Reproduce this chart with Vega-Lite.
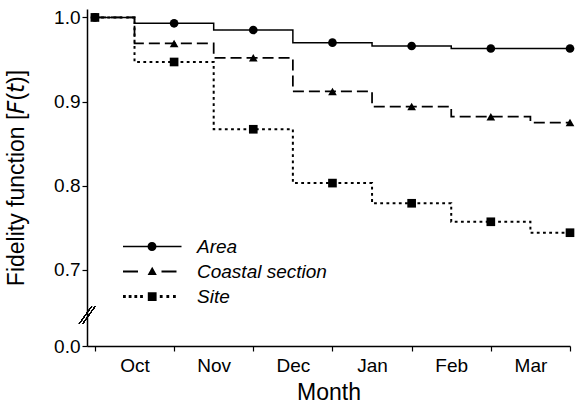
{
  "$schema": "https://vega.github.io/schema/vega-lite/v6.json",
  "autosize": {"type": "none"},
  "width": 483,
  "height": 337,
  "padding": {"left": 87, "top": 9, "right": 5, "bottom": 60},
  "background": "white",
  "config": {
    "view": {"stroke": null},
    "font": "Liberation Sans",
    "axis": {"grid": false, "domainColor": "black", "tickColor": "black", "labelColor": "black", "titleColor": "black", "labelFont": "Liberation Sans", "titleFont": "Liberation Sans", "titleFontWeight": "normal", "domainWidth": 1.5, "tickWidth": 1.2}
  },
  "data": {
    "values": [
      {"t": 0, "series": "Area", "F": 1.0},
      {"t": 1, "series": "Area", "F": 0.993},
      {"t": 2, "series": "Area", "F": 0.985},
      {"t": 3, "series": "Area", "F": 0.970},
      {"t": 4, "series": "Area", "F": 0.966},
      {"t": 5, "series": "Area", "F": 0.963},
      {"t": 6, "series": "Area", "F": 0.963},
      {"t": 0, "series": "Coastal section", "F": 1.0},
      {"t": 1, "series": "Coastal section", "F": 0.969},
      {"t": 2, "series": "Coastal section", "F": 0.952},
      {"t": 3, "series": "Coastal section", "F": 0.912},
      {"t": 4, "series": "Coastal section", "F": 0.894},
      {"t": 5, "series": "Coastal section", "F": 0.882},
      {"t": 6, "series": "Coastal section", "F": 0.875},
      {"t": 0, "series": "Site", "F": 1.0},
      {"t": 1, "series": "Site", "F": 0.947},
      {"t": 2, "series": "Site", "F": 0.867},
      {"t": 3, "series": "Site", "F": 0.803},
      {"t": 4, "series": "Site", "F": 0.779},
      {"t": 5, "series": "Site", "F": 0.757},
      {"t": 6, "series": "Site", "F": 0.744}
    ]
  },
  "encoding": {
    "x": {
      "field": "t", "type": "quantitative",
      "scale": {"domain": [-0.1, 6.0], "nice": false, "zero": false},
      "axis": {
        "values": [0, 1, 2, 3, 4, 5, 6],
        "labelExpr": "['Oct','Nov','Dec','Jan','Feb','Mar',''][datum.value]",
        "labelOffset": 39.6, "labelFontSize": 19, "labelPadding": 5,
        "labelOverlap": false, "labelBound": false, "labelFlush": false,
        "tickSize": 5, "title": "Month", "titleFontSize": 23, "titlePadding": 6
      }
    },
    "y": {
      "field": "F", "type": "quantitative",
      "scale": {"domain": [0, 0.62, 1.01], "range": [337, 328, 0], "nice": false, "zero": false},
      "axis": {
        "values": [0, 0.7, 0.8, 0.9, 1.0], "format": ".1f",
        "labelFontSize": 19, "labelPadding": 2, "tickSize": 5,
        "title": "Fidelity function [𝘍(𝘵)]", "titleFontSize": 23, "titlePadding": 25
      }
    }
  },
  "resolve": {"scale": {"shape": "independent"}, "legend": {"shape": "independent"}},
  "layer": [
    {
      "mark": {"type": "line", "interpolate": "step", "color": "black"},
      "encoding": {
        "strokeDash": {
          "field": "series", "type": "nominal",
          "scale": {"range": [[1, 0], [11, 5], [2.8, 3.4]]},
          "legend": null
        },
        "strokeWidth": {
          "field": "series", "type": "ordinal",
          "scale": {"range": [1.5, 2, 2.8]},
          "legend": null
        }
      }
    },
    {
      "mark": {"type": "point", "filled": true, "color": "black", "size": 75, "opacity": 1},
      "encoding": {
        "shape": {
          "field": "series", "type": "nominal",
          "scale": {"range": ["circle", "triangle-up", "square"]},
          "legend": null
        }
      }
    },
    {
      "mark": {"type": "point", "filled": true, "color": "black", "size": 75, "opacity": 0},
      "encoding": {
        "shape": {
          "field": "series", "type": "nominal",
          "scale": {
            "domain": ["Area", "Coastal section", "Site"],
            "range": [
              "M-2.9,-0.075H2.95V0.075H-2.9ZM-0.45,0A0.45,0.45 0 1,1 0.45,0A0.45,0.45 0 1,1 -0.45,0Z",
              "M-2.9,-0.1H-1.4V0.1H-2.9ZM0.95,-0.1H2.45V0.1H0.95ZM0.02,-0.48L0.48,0.34L-0.44,0.34Z",
              "M-2.9,-0.14h0.28v0.28h-0.28ZM-2.33,-0.14h0.28v0.28h-0.28ZM-1.76,-0.14h0.28v0.28h-0.28ZM-1.19,-0.14h0.28v0.28h-0.28ZM-0.42,-0.42H0.46V0.46H-0.42ZM0.78,-0.14h0.28v0.28h-0.28ZM1.44,-0.14h0.28v0.28h-0.28ZM2.1,-0.14h0.28v0.28h-0.28Z"
            ]
          },
          "legend": {
            "title": null, "orient": "none", "legendX": 55, "legendY": 227.5,
            "labelFontSize": 19, "labelFontStyle": "italic", "labelColor": "black",
            "labelOffset": 35, "rowPadding": 5, "symbolSize": 400, "padding": 0,
            "symbolOpacity": 1, "symbolFillColor": "black", "symbolStrokeColor": "black", "symbolStrokeWidth": 0
          }
        }
      }
    },
    {
      "mark": {"type": "rule", "color": "black", "strokeWidth": 1},
      "encoding": {
        "x": {"datum": -0.196}, "x2": {"datum": -0.044},
        "y": {"datum": 0.636}, "y2": {"datum": 0.656}
      }
    },
    {
      "mark": {"type": "rule", "color": "black", "strokeWidth": 1},
      "encoding": {
        "x": {"datum": -0.152}, "x2": {"datum": 0.0},
        "y": {"datum": 0.636}, "y2": {"datum": 0.656}
      }
    }
  ]
}
